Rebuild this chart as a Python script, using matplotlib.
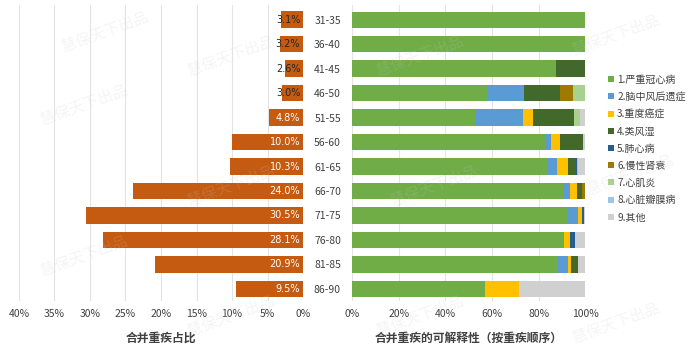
import matplotlib
matplotlib.use("Agg")
import matplotlib.pyplot as plt
import numpy as np

plt.rcParams["font.family"] = ["Noto Sans CJK SC", "DejaVu Sans"]

ages = ["31-35", "36-40", "41-45", "46-50", "51-55", "56-60",
        "61-65", "66-70", "71-75", "76-80", "81-85", "86-90"]
share = [3.1, 3.2, 2.6, 3.0, 4.8, 10.0, 10.3, 24.0, 30.5, 28.1, 20.9, 9.5]
share_labels = ["3.1%", "3.2%", "2.6%", "3.0%", "4.8%", "10.0%",
                "10.3%", "24.0%", "30.5%", "28.1%", "20.9%", "9.5%"]

diseases = ["1.严重冠心病", "2.脑中风后遗症", "3.重度癌症", "4.类风湿", "5.肺心病",
            "6.慢性肾衰", "7.心肌炎", "8.心脏瓣膜病", "9.其他"]
d1 = [100, 100, 87.6, 58.1, 53.1, 82.8, 84.0, 90.7, 92.8, 91.0, 88.4, 57.1]
d2 = [0, 0, 0, 15.7, 20.1, 2.6, 3.8, 2.6, 4.3, 0, 4.1, 0]
d3 = [0, 0, 0, 0, 4.6, 3.6, 5.0, 3.1, 1.7, 2.6, 1.5, 14.4]
d4 = [0, 0, 12.4, 15.6, 17.6, 9.9, 3.1, 2.2, 0, 0, 3.0, 0]
d5 = [0, 0, 0, 0, 0, 0, 0.4, 0, 0.7, 2.2, 0, 0]
d6 = [0, 0, 0, 5.4, 0, 0, 0, 1.4, 0, 0, 0, 0]
d7 = [0, 0, 0, 5.2, 2.3, 0, 0, 0, 0, 0, 0, 0]
d8 = [0, 0, 0, 0, 0, 0, 0.7, 0, 0, 0, 0, 0]
d9 = [0, 0, 0, 0, 2.3, 1.1, 3.0, 0, 0.5, 4.2, 3.0, 28.5]
parts = [d1, d2, d3, d4, d5, d6, d7, d8, d9]

colors = ["#70AD47", "#5B9BD5", "#FFC000", "#43682B", "#255E91",
          "#9E7A00", "#A9D18E", "#9DC3E6", "#D0D0D0"]
orange = "#C55A11"
grid_c = "#E3E3E3"
text_c = "#404040"

fig = plt.figure(figsize=(7.0, 3.51), dpi=100)
y = np.arange(len(ages))

# left: share of combined critical illness
axl = fig.add_axes([0.027, 0.142, 0.406, 0.844])
axl.barh(y, share, height=0.68, color=orange, zorder=3)
for yi, v, lab in zip(y, share, share_labels):
    c = "#262626" if v < 4 else "white"
    axl.text(0.4, yi, lab, ha="right", va="center", fontsize=7, color=c,
             family=["DejaVu Sans"], fontweight="medium", zorder=4)
axl.set_xlim(40, 0)
axl.set_ylim(11.5, -0.6)
axl.set_xticks(np.arange(0, 41, 5))
axl.set_xticklabels([f"{t}%" for t in range(0, 41, 5)])
axl.set_yticks([])
axl.grid(axis="x", color=grid_c, lw=0.8, zorder=0)
axl.set_xlabel("合并重疾占比", fontsize=8.5, color=text_c, fontweight="bold", labelpad=9)

# right: composition by disease
axr = fig.add_axes([0.503, 0.142, 0.333, 0.844])
left = np.zeros(len(ages))
for name, vals, col in zip(diseases, parts, colors):
    vals = np.array(vals, dtype=float)
    axr.barh(y, vals, left=left, height=0.66, color=col, label=name, zorder=3)
    left += vals
axr.set_xlim(0, 100)
axr.set_ylim(11.5, -0.6)
axr.set_xticks(np.arange(0, 101, 20))
axr.set_xticklabels([f"{t}%" for t in range(0, 101, 20)])
axr.set_yticks(y)
axr.set_yticklabels(ages)
axr.grid(axis="x", color=grid_c, lw=0.8, zorder=0)
axr.set_xlabel("合并重疾的可解释性（按重疾顺序）", fontsize=8.5, color=text_c,
               fontweight="bold", labelpad=9)

for ax in (axl, axr):
    for s in ax.spines.values():
        s.set_visible(False)
    ax.tick_params(length=0, labelsize=7.5, colors=text_c, pad=6)
axr.tick_params(axis="y", pad=8)

leg = axr.legend(loc="center left", bbox_to_anchor=(1.06, 0.515), frameon=False,
                 fontsize=7.2, handlelength=0.55, handleheight=0.55,
                 handletextpad=0.35, labelspacing=0.72, labelcolor=text_c)

# faint watermark
marks = [(0.12, 0.70), (0.33, 0.84), (0.12, 0.27), (0.33, 0.47), (0.33, 0.10),
         (0.60, 0.84), (0.62, 0.47), (0.60, 0.10), (0.88, 0.90), (0.90, 0.50),
         (0.88, 0.08), (0.15, 0.91)]
for mx, my in marks:
    fig.text(mx, my, "慧保天下出品", fontsize=11, color="#C8C8C8", alpha=0.18,
             rotation=20, ha="center", va="center", zorder=10)

fig.savefig("out.png", dpi=100)
